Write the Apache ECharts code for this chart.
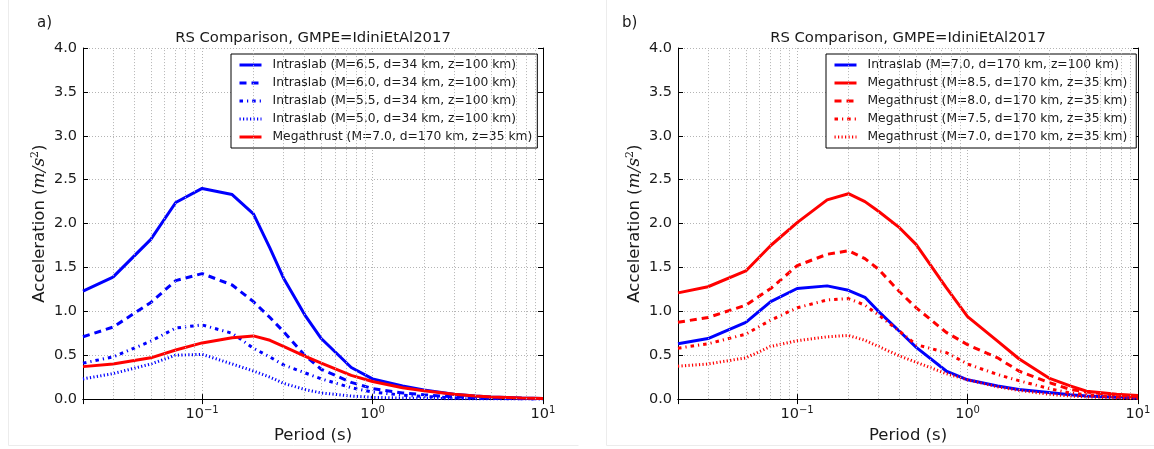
<!DOCTYPE html>
<html><head><meta charset="utf-8">
<script src="https://cdn.jsdelivr.net/npm/echarts/dist/echarts.min.js"></script>
<style>html,body{margin:0;padding:0;background:#fff}#c{width:1154px;height:449px}</style>
</head><body><div id="c"></div>
<script>
// ---- data ----
const periods = [0.02,0.03,0.05,0.07,0.1,0.15,0.2,0.25,0.3,0.4,0.5,0.75,1,1.5,2,3,4,5,7.5,10];
const yTicks = [0,0.5,1,1.5,2,2.5,3,3.5,4];
const panelTitles = ['RS Comparison, GMPE=IdiniEtAl2017','RS Comparison, GMPE=IdiniEtAl2017'];
const panelTags = ['a)','b)'];

// panel a
const namesA = ['Intraslab (M=6.5, d=34 km, z=100 km)','Intraslab (M=6.0, d=34 km, z=100 km)','Intraslab (M=5.5, d=34 km, z=100 km)','Intraslab (M=5.0, d=34 km, z=100 km)','Megathrust (M=7.0, d=170 km, z=35 km)'];
const intraM65 = [1.23,1.39,1.82,2.24,2.40,2.33,2.11,1.72,1.38,0.96,0.69,0.36,0.23,0.15,0.105,0.056,0.035,0.025,0.012,0.007];
const intraM60 = [0.71,0.82,1.10,1.35,1.43,1.30,1.11,0.93,0.77,0.50,0.34,0.19,0.12,0.07,0.05,0.025,0.015,0.01,0.005,0.003];
const intraM55 = [0.41,0.48,0.66,0.81,0.845,0.75,0.58,0.48,0.39,0.30,0.23,0.13,0.08,0.045,0.03,0.015,0.009,0.006,0.003,0.002];
const intraM50 = [0.23,0.29,0.40,0.50,0.51,0.40,0.32,0.25,0.18,0.11,0.07,0.035,0.02,0.012,0.008,0.004,0.002,0.0015,0.001,0.0005];
const megaM70a = [0.37,0.40,0.47,0.56,0.64,0.70,0.72,0.67,0.60,0.49,0.41,0.27,0.20,0.13,0.095,0.055,0.035,0.025,0.012,0.008];

// panel b
const namesB = ['Intraslab (M=7.0, d=170 km, z=100 km)','Megathrust (M=8.5, d=170 km, z=35 km)','Megathrust (M=8.0, d=170 km, z=35 km)','Megathrust (M=7.5, d=170 km, z=35 km)','Megathrust (M=7.0, d=170 km, z=35 km) '];
const intraM70b = [0.63,0.69,0.875,1.11,1.26,1.29,1.24,1.16,1.0,0.77,0.59,0.32,0.22,0.15,0.11,0.075,0.05,0.035,0.02,0.012];
const megaM85 = [1.21,1.28,1.46,1.75,2.01,2.27,2.34,2.25,2.14,1.95,1.76,1.27,0.94,0.66,0.46,0.24,0.15,0.09,0.055,0.04];
const megaM80 = [0.875,0.93,1.07,1.26,1.52,1.65,1.69,1.60,1.48,1.22,1.04,0.76,0.62,0.47,0.32,0.19,0.11,0.08,0.045,0.03];
const megaM75 = [0.58,0.63,0.74,0.90,1.04,1.13,1.145,1.07,0.96,0.77,0.62,0.53,0.40,0.28,0.21,0.12,0.07,0.05,0.025,0.015];
const megaM70b = [0.375,0.40,0.47,0.60,0.665,0.71,0.725,0.67,0.60,0.49,0.42,0.29,0.22,0.14,0.10,0.055,0.035,0.025,0.012,0.008];

// ---- styling ----
const BLUE = '#0000ff', RED = '#ff0000';
const SOLID = 'solid', DASH = [7,5], DASHDOT = [3.5,4,1.2,4], DOT = [1.2,2.3];
const FONT = 'DejaVu Sans';
const TXT = '#1a1a1a';
const GRIDC = '#b4b4b4';
const GRIDT = [1,2];

const X_MIN = 0.02, X_MAX = 10;
const minorX = [];
[0.01,0.1,1].forEach(d => { for (let k = 2; k <= 9; k++) { const v = +(d*k).toPrecision(3); if (v > X_MIN && v < X_MAX) minorX.push(v); } });

function pts(vals){ return periods.map((p,i)=>[p, vals[i]]); }
function line(name, vals, color, dash, gi){
  return {name, type:'line', xAxisIndex:gi, yAxisIndex:gi, data:pts(vals), symbol:'none', showSymbol:false,
    lineStyle:{color, width:3, type:dash}, itemStyle:{color}, z:3, animation:false, silent:true};
}
function minorGrid(gi){
  return {type:'line', xAxisIndex:gi, yAxisIndex:gi, data:[], z:1, silent:true, animation:false,
    markLine:{silent:true, symbol:'none', animation:false, label:{show:false},
      lineStyle:{type:GRIDT, color:GRIDC, width:1}, data:minorX.map(v=>({xAxis:v}))}};
}

const grids = [{left:83, top:48, width:460, height:357},{left:678, top:48, width:460, height:357}];

function xBottom(gi){
  return {type:'log', logBase:10, min:X_MIN, max:X_MAX, gridIndex:gi, position:'bottom',
    name:'Period (s)', nameLocation:'middle', nameGap:22,
    nameTextStyle:{fontFamily:FONT, fontSize:16.5, color:TXT},
    axisLine:{lineStyle:{color:'#000', width:1}},
    axisTick:{inside:true, length:5, lineStyle:{color:'#000'}},
    splitLine:{show:true, lineStyle:{type:GRIDT, color:GRIDC, width:1}},
    axisLabel:{margin:6, color:TXT, fontFamily:FONT, fontSize:14.5,
      formatter:v=>{ const l=Math.log10(v), e=Math.round(l); if (Math.abs(l-e)>1e-6) return ''; return '{b|10}{s|'+(e<0?'\u2212'+(-e):e)+'}'; },
      rich:{b:{fontFamily:FONT, fontSize:14.5, color:TXT}, s:{fontFamily:FONT, fontSize:10, color:TXT, padding:[0,0,9,0]}}}
  };
}
function xTop(gi){
  return {type:'log', logBase:10, min:X_MIN, max:X_MAX, gridIndex:gi, position:'top',
    axisLine:{lineStyle:{color:'#000', width:1}}, axisTick:{inside:true, length:5, lineStyle:{color:'#000'}},
    axisLabel:{show:false}, splitLine:{show:false}};
}
function yLeft(gi){
  return {type:'value', min:0, max:4, interval:0.5, gridIndex:gi, position:'left',
    name:'Acceleration ({m|m/s}{s|2})', nameLocation:'middle', nameRotate:90, nameGap:33,
    nameTextStyle:{fontFamily:FONT, fontSize:16.5, color:TXT,
      rich:{m:{fontFamily:'DejaVu Serif', fontStyle:'italic', fontSize:17, color:TXT},
            s:{fontFamily:'DejaVu Serif', fontSize:11, color:TXT, padding:[0,0,9,0]}}},
    axisLine:{show:true, lineStyle:{color:'#000', width:1}},
    axisTick:{show:true, inside:true, length:5, lineStyle:{color:'#000'}},
    splitLine:{show:true, lineStyle:{type:GRIDT, color:GRIDC, width:1}},
    axisLabel:{margin:6, color:TXT, fontFamily:FONT, fontSize:14.5, formatter:v=>v.toFixed(1)}
  };
}
function yRight(gi){
  return {type:'value', min:0, max:4, interval:0.5, gridIndex:gi, position:'right',
    axisLine:{show:true, lineStyle:{color:'#000', width:1}}, axisTick:{show:true, inside:true, length:5, lineStyle:{color:'#000'}},
    axisLabel:{show:false}, splitLine:{show:false}};
}
function legend(names, left){
  return {data:names, left, top:54, orient:'vertical', itemWidth:22, itemHeight:12, itemGap:6,
    padding:[5,5,5,7], borderColor:'#000', borderWidth:1, backgroundColor:'#fff', borderRadius:0,
    selectedMode:false, itemStyle:{color:'rgba(0,0,0,0)', borderWidth:0, opacity:0},
    lineStyle:{width:3},
    textStyle:{fontFamily:FONT, fontSize:12.3, color:TXT, padding:[0,0,0,6]}};
}

const series = [
  minorGrid(0), minorGrid(1),
  line(namesA[0], intraM65, BLUE, SOLID, 0),
  line(namesA[1], intraM60, BLUE, DASH, 0),
  line(namesA[2], intraM55, BLUE, DASHDOT, 0),
  line(namesA[3], intraM50, BLUE, DOT, 0),
  line(namesA[4], megaM70a, RED, SOLID, 0),
  line(namesB[0], intraM70b, BLUE, SOLID, 1),
  line(namesB[1], megaM85, RED, SOLID, 1),
  line(namesB[2], megaM80, RED, DASH, 1),
  line(namesB[3], megaM75, RED, DASHDOT, 1),
  line(namesB[4], megaM70b, RED, DOT, 1)
];

const graphics = [];
grids.forEach((g,i)=>{
  graphics.push({type:'text', x:g.left+g.width/2, y:38, z:10, style:{text:panelTitles[i], align:'center', verticalAlign:'middle', font:'14.8px "DejaVu Sans"', fill:TXT}});
});
graphics.push({type:'text', x:37, y:23, style:{text:panelTags[0], align:'left', verticalAlign:'middle', font:'15px "DejaVu Sans"', fill:TXT}});
graphics.push({type:'text', x:622, y:23, style:{text:panelTags[1], align:'left', verticalAlign:'middle', font:'15px "DejaVu Sans"', fill:TXT}});
// faint panel frames
graphics.push({type:'polyline', shape:{points:[[8.5,0],[8.5,445.5],[578.5,445.5]]}, style:{stroke:'#ececec', fill:null, lineWidth:1}});
graphics.push({type:'polyline', shape:{points:[[606.5,0],[606.5,445.5],[1154,445.5]]}, style:{stroke:'#ececec', fill:null, lineWidth:1}});

const chart = echarts.init(document.getElementById('c'), null, {renderer:'canvas'});
chart.setOption({
  animation:false,
  backgroundColor:'#fff',
  grid:grids,
  xAxis:[xBottom(0), xBottom(1), xTop(0), xTop(1)],
  yAxis:[yLeft(0), yLeft(1), yRight(0), yRight(1)],
  legend:[legend(namesA, 231), legend(namesB, 826)],
  series,
  graphic:graphics
});
</script></body></html>
